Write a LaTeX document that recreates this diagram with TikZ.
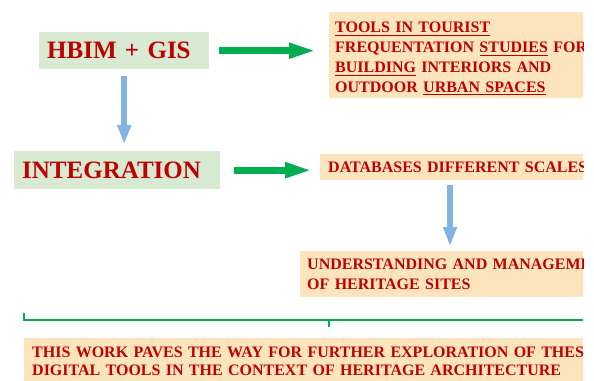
\documentclass[tikz,border=0pt]{standalone}
\usepackage{fontspec}
\setmainfont{Liberation Serif}
\usetikzlibrary{arrows.meta}

\definecolor{boxgreen}{HTML}{D9EAD3}
\definecolor{boxorange}{HTML}{FCE5BC}
\definecolor{textred}{HTML}{C00000}
\definecolor{arrowgreen}{HTML}{00B050}
\definecolor{arrowblue}{HTML}{80B3E0}

\newcommand{\ulword}[1]{\leavevmode\vtop{\hbox{#1}\kern1.9pt\hrule height 1.1pt}}

\tikzset{
  boxtext/.style={inner xsep=8pt, inner ysep=0pt, align=left, text=textred, anchor=north west},
  bigbox/.style={boxtext, fill=boxgreen, font=\fontsize{25}{30}\selectfont\bfseries},
  smallbox/.style={boxtext, fill=boxorange, font=\fontsize{16}{19.5}\selectfont\bfseries},
  greenarrow/.style={draw=arrowgreen, line width=7pt, -{Triangle[length=28pt,width=14pt]}},
  bluearrow/.style={draw=arrowblue, line width=6pt, -{Triangle[length=19pt,width=13pt]}},
}

\begin{document}
\begin{tikzpicture}[x=1pt,y=-1pt]
\useasboundingbox (0,0) rectangle (594,380);
\clip (0,0) rectangle (583,380);

\node[bigbox, text width=154pt, minimum height=37pt] (hbim) at (39,32) {HBIM + GIS};
\node[bigbox, text width=190pt, minimum height=38pt] (integ) at (14,151) {INTEGRATION};

\node[smallbox, inner xsep=6pt, text width=300pt, minimum height=86pt, font=\fontsize{16}{19.8}\selectfont\bfseries] (tools) at (329,12)
  {\rule{0pt}{18pt}\ulword{TOOLS IN TOURIST}\\FREQUENTATION \ulword{STUDIES} FOR\\\ulword{BUILDING} INTERIORS AND\\OUTDOOR \ulword{URBAN SPACES}};
\node[smallbox, text width=300pt, minimum height=26pt] (db) at (320,154) {DATABASES DIFFERENT SCALES};
\node[smallbox, inner xsep=7pt, text width=320pt, minimum height=46pt] (und) at (300,251)
  {UNDERSTANDING AND MANAGEMENT\\OF HERITAGE SITES};
\node[smallbox, text width=594pt, minimum height=46pt, font=\fontsize{16}{17.5}\selectfont\bfseries] (bottom) at (24,338)
  {THIS WORK PAVES THE WAY FOR FURTHER EXPLORATION OF THESE\\DIGITAL TOOLS IN THE CONTEXT OF HERITAGE ARCHITECTURE};

\draw[greenarrow, shorten <=10pt, shorten >=12pt] (hbim.east) -- (hbim.east -| tools.west);
\draw[bluearrow, shorten <=7pt, shorten >=7pt] (hbim.south) -- (hbim.south |- integ.north);
\draw[greenarrow, shorten <=14pt, shorten >=7pt] (integ.east) -- (integ.east -| db.west);
\draw[bluearrow, shorten <=5pt, shorten >=5pt] ([xshift=130pt]db.south west) -- ([xshift=150pt]und.north west);

\draw[arrowgreen, line width=1.5pt] ([yshift=25pt]bottom.north west) -- ([yshift=18pt]bottom.north west)
  -- ([yshift=18pt]bottom.north east) -- ([yshift=25pt]bottom.north east);
\draw[arrowgreen, line width=1.5pt] ([yshift=18pt]bottom.north) -- ([yshift=11pt]bottom.north);
\end{tikzpicture}
\end{document}
